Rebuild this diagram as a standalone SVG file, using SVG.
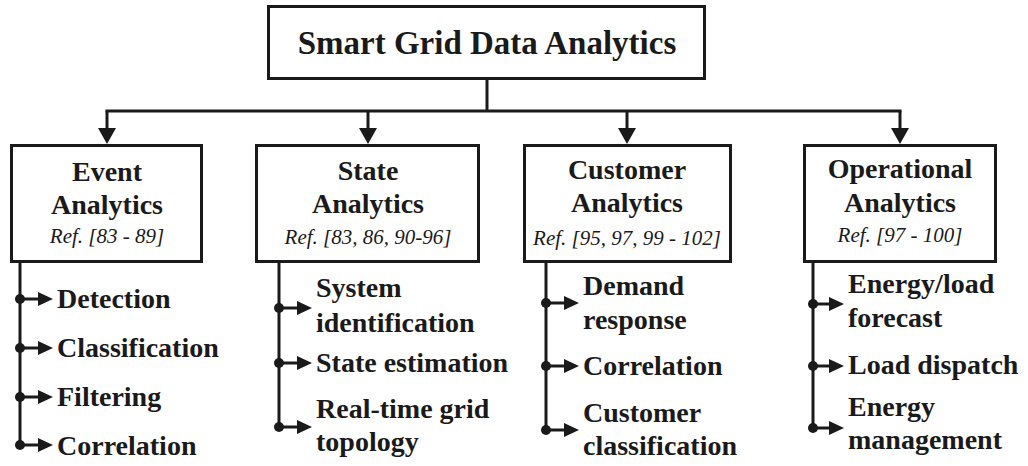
<svg xmlns="http://www.w3.org/2000/svg" width="1028" height="466" viewBox="0 0 1028 466">
  <style>
    .box { fill: #ffffff; stroke: #1a1a1a; stroke-width: 3; }
    .wire { fill: none; stroke: #1a1a1a; stroke-width: 3; }
    .dot { fill: #1a1a1a; }
    .title { font-family: "Liberation Serif", "Times New Roman", serif; font-weight: bold; font-size: 33px; fill: #1a1a1a; text-anchor: middle; }
    .head { font-family: "Liberation Serif", "Times New Roman", serif; font-weight: bold; font-size: 28px; fill: #1a1a1a; text-anchor: middle; }
    .ref { font-family: "Liberation Serif", "Times New Roman", serif; font-style: italic; font-size: 21px; fill: #1a1a1a; text-anchor: middle; }
    .item { font-family: "Liberation Serif", "Times New Roman", serif; font-weight: bold; font-size: 28px; fill: #1a1a1a; }
  </style>
  <defs>
    <marker id="down" markerUnits="userSpaceOnUse" markerWidth="16" markerHeight="18" viewBox="0 0 16 18" refX="0" refY="9" orient="auto">
      <path d="M0,0 L16,9 L0,18 z" fill="#1a1a1a"/>
    </marker>
    <marker id="side" markerUnits="userSpaceOnUse" markerWidth="15" markerHeight="14" viewBox="0 0 15 14" refX="0" refY="7" orient="auto">
      <path d="M0,0 L15,7 L0,14 z" fill="#1a1a1a"/>
    </marker>
  </defs>

  <!-- connectors -->
  <g id="connectors">
    <path class="wire" d="M487,80 V111"/>
    <path class="wire" d="M107,111 H900" stroke-linecap="square"/>
    <path class="wire" d="M107,111 V128" marker-end="url(#down)"/>
    <path class="wire" d="M368,111 V128" marker-end="url(#down)"/>
    <path class="wire" d="M627,111 V128" marker-end="url(#down)"/>
    <path class="wire" d="M900,111 V128" marker-end="url(#down)"/>

    <!-- event branches -->
    <path class="wire" d="M20,262 V445"/>
    <circle class="dot" cx="20" cy="299" r="5"/>
    <circle class="dot" cx="20" cy="348" r="5"/>
    <circle class="dot" cx="20" cy="397" r="5"/>
    <circle class="dot" cx="20" cy="445" r="5"/>
    <path class="wire" d="M20,299 H38" marker-end="url(#side)"/>
    <path class="wire" d="M20,348 H38" marker-end="url(#side)"/>
    <path class="wire" d="M20,397 H38" marker-end="url(#side)"/>
    <path class="wire" d="M20,445 H38" marker-end="url(#side)"/>

    <!-- state branches -->
    <path class="wire" d="M279,262 V427"/>
    <circle class="dot" cx="279" cy="308" r="5"/>
    <circle class="dot" cx="279" cy="363" r="5"/>
    <circle class="dot" cx="279" cy="427" r="5"/>
    <path class="wire" d="M279,308 H297" marker-end="url(#side)"/>
    <path class="wire" d="M279,363 H297" marker-end="url(#side)"/>
    <path class="wire" d="M279,427 H297" marker-end="url(#side)"/>

    <!-- customer branches -->
    <path class="wire" d="M546,262 V430"/>
    <circle class="dot" cx="546" cy="303" r="5"/>
    <circle class="dot" cx="546" cy="366" r="5"/>
    <circle class="dot" cx="546" cy="430" r="5"/>
    <path class="wire" d="M546,303 H564" marker-end="url(#side)"/>
    <path class="wire" d="M546,366 H564" marker-end="url(#side)"/>
    <path class="wire" d="M546,430 H564" marker-end="url(#side)"/>

    <!-- operational branches -->
    <path class="wire" d="M813,262 V428"/>
    <circle class="dot" cx="813" cy="304" r="5"/>
    <circle class="dot" cx="813" cy="366" r="5"/>
    <circle class="dot" cx="813" cy="428" r="5"/>
    <path class="wire" d="M813,304 H829" marker-end="url(#side)"/>
    <path class="wire" d="M813,366 H829" marker-end="url(#side)"/>
    <path class="wire" d="M813,428 H829" marker-end="url(#side)"/>
  </g>

  <g id="root">
    <rect class="box" x="268.5" y="6.5" width="436" height="72"/>
    <text class="title" x="487" y="54">Smart Grid Data Analytics</text>
  </g>

  <g id="event">
    <rect class="box" x="11.5" y="145.5" width="190" height="116"/>
    <text class="head" x="107" y="181">Event</text>
    <text class="head" x="107" y="214">Analytics</text>
    <text class="ref" x="107" y="243">Ref. [83 - 89]</text>
    <text class="item" x="57" y="308">Detection</text>
    <text class="item" x="57" y="357">Classification</text>
    <text class="item" x="57" y="406">Filtering</text>
    <text class="item" x="57" y="455">Correlation</text>
  </g>

  <g id="state">
    <rect class="box" x="256.5" y="145.5" width="222" height="116"/>
    <text class="head" x="368" y="180">State</text>
    <text class="head" x="368" y="213">Analytics</text>
    <text class="ref" x="368" y="244">Ref. [83, 86, 90-96]</text>
    <text class="item" x="316" y="297">System</text>
    <text class="item" x="316" y="332">identification</text>
    <text class="item" x="316" y="372">State estimation</text>
    <text class="item" x="316" y="418">Real-time grid</text>
    <text class="item" x="316" y="451">topology</text>
  </g>

  <g id="customer">
    <rect class="box" x="524.5" y="145.5" width="206" height="116"/>
    <text class="head" x="627" y="179">Customer</text>
    <text class="head" x="627" y="212">Analytics</text>
    <text class="ref" x="627" y="245">Ref. [95, 97, 99 - 102]</text>
    <text class="item" x="583" y="295">Demand</text>
    <text class="item" x="583" y="329">response</text>
    <text class="item" x="583" y="375">Correlation</text>
    <text class="item" x="583" y="422">Customer</text>
    <text class="item" x="583" y="455">classification</text>
  </g>

  <g id="operational">
    <rect class="box" x="804.5" y="145.5" width="191" height="116"/>
    <text class="head" x="900" y="178">Operational</text>
    <text class="head" x="900" y="212">Analytics</text>
    <text class="ref" x="900" y="242">Ref. [97 - 100]</text>
    <text class="item" x="848" y="293">Energy/load</text>
    <text class="item" x="848" y="327">forecast</text>
    <text class="item" x="848" y="374">Load dispatch</text>
    <text class="item" x="848" y="416">Energy</text>
    <text class="item" x="848" y="449">management</text>
  </g>
</svg>
